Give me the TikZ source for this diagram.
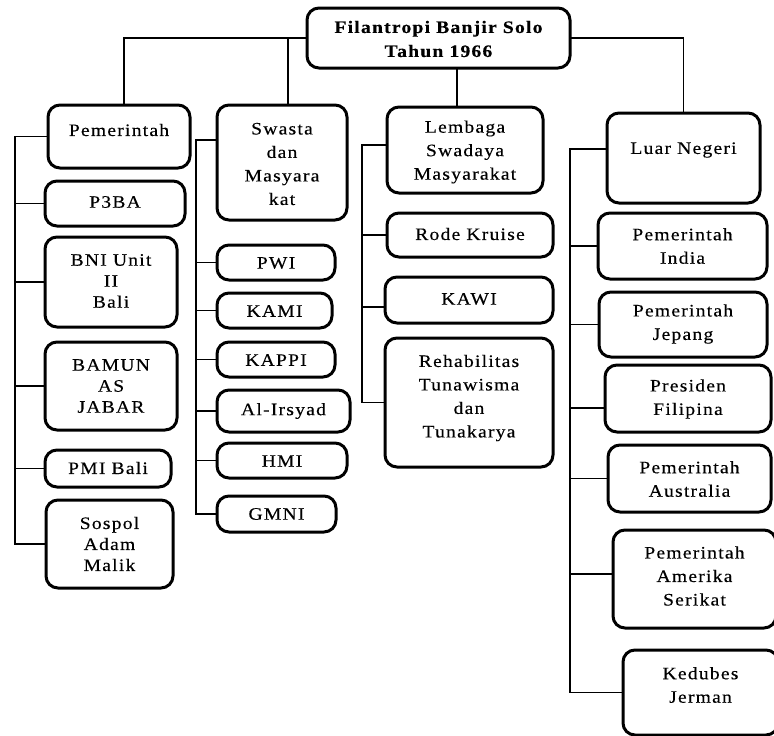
\documentclass[tikz,border=0pt]{standalone}
\usepackage{fontspec}
\setmainfont{Liberation Serif}[LetterSpace=7,FakeStretch=1.12,FakeBold=0.3]
\begin{document}
\begin{tikzpicture}[x=1pt,y=-1pt,
  bbox/.style={draw=black,line width=3pt,rounded corners=12pt,inner sep=0pt,outer sep=0pt,fill=white},
  lbl/.style={align=center,inner sep=0pt,font=\fontsize{17.5}{23.5}\selectfont},
  lblL/.style={lbl,font=\fontsize{17.5}{21}\selectfont},
  lblB/.style={lbl,font=\fontsize{17.5}{24}\selectfont\bfseries},
  conn/.style={draw=black,line width=1.5pt}]
\useasboundingbox (0,0) rectangle (774,736);
% boxes: [label style] name, x1, y1, x2, y2, text y, text
\newcommand\bxx[8][lbl]{%
  \path node[bbox,minimum width={#5-#3},minimum height={#6-#4}] (#2) at ({(#3+#5)/2},{(#4+#6)/2}) {};
  \path node[#1] (#2-t) at ({(#3+#5)/2},#7) {#8};}
% connector buses
\coordinate (b1) at (15,0);
\coordinate (b2) at (196,0);
\coordinate (b3) at (362,0);
\coordinate (b4) at (570,0);
\coordinate (sw1) at (196,140);
\coordinate (l1) at (362,145);
\coordinate (ln1) at (570,149);
\coordinate (filc) at (0,408);
\coordinate (kawic) at (0,307);
\coordinate (amec) at (0,574);

\bxx[lblB]{root}{307}{8}{570}{68}{39}{Filantropi Banjir Solo\\Tahun 1966}
\bxx{pem}{48}{105}{190}{168}{130}{Pemerintah}
\bxx{p3ba}{45}{181}{185}{226}{202}{P3BA}
\bxx[lblL]{bni}{45}{237}{177}{327}{281}{BNI Unit\\II\\Bali}
\bxx[lblL]{bamun}{45}{342}{177}{430}{386}{BAMUN\\AS\\JABAR}
\bxx{pmi}{45}{450}{171}{487}{468}{PMI Bali}
\bxx[lblL]{sospol}{46}{500}{173}{588}{544}{Sospol\\Adam\\Malik}
\bxx{sw}{217}{105}{347}{220}{164}{Swasta\\dan\\Masyara\\kat}
\bxx{pwi}{217}{245}{335}{280}{263}{PWI}
\bxx{kami}{217}{293}{332}{328}{311}{KAMI}
\bxx{kappi}{217}{342}{335}{377}{360}{KAPPI}
\bxx{irsyad}{217}{390}{350}{432}{411}{Al-Irsyad}
\bxx{hmi}{217}{443}{347}{478}{461}{HMI}
\bxx{gmni}{217}{496}{336}{532}{514}{GMNI}
\bxx{lsm}{387}{107}{543}{193}{152}{Lembaga\\Swadaya\\Masyarakat}
\bxx{rode}{387}{213}{553}{257}{234}{Rode Kruise}
\bxx{kawi}{385}{277}{553}{323}{299}{KAWI}
\bxx{rehab}{385}{338}{553}{467}{398}{Rehabilitas\\Tunawisma\\dan\\Tunakarya}
\bxx{ln}{607}{113}{760}{203}{150}{Luar Negeri}
\bxx{india}{598}{213}{767}{279}{246}{Pemerintah\\India}
\bxx{jepang}{599}{292}{767}{357}{324}{Pemerintah\\Jepang}
\bxx{fil}{605}{365}{771}{432}{399}{Presiden\\Filipina}
\bxx{aus}{608}{445}{771}{512}{479}{Pemerintah\\Australia}
\bxx{ame}{613}{530}{776}{628}{576}{Pemerintah\\Amerika\\Serikat}
\bxx{ked}{623}{650}{778}{735}{685}{Kedubes\\Jerman}

% top connectors
\draw[conn] (root.west) -| ([xshift=5pt]pem.north);
\draw[conn] ([xshift=6pt]sw.north) |- (root.west);
\draw[conn] ([xshift=-8pt]lsm.north) -- ([xshift=-8pt]lsm.north |- root.south);
\draw[conn] (root.east) -| (ln.north);

% column 1
\draw[conn] (pem.west) -- (pem.west -| b1) -- (sospol.west -| b1) -- (sospol.west);
\foreach \c in {p3ba,bni,bamun,pmi} \draw[conn] (\c.west) -- (\c.west -| b1);
% column 2
\draw[conn] (sw.west |- sw1) -- (sw1) -- (gmni.west -| b2) -- (gmni.west);
\foreach \c in {pwi,kami,kappi,irsyad,hmi} \draw[conn] (\c.west) -- (\c.west -| b2);
% column 3
\draw[conn] (lsm.west |- l1) -- (l1) -- (rehab.west -| l1) -- (rehab.west);
\draw[conn] (rode.west) -- (rode.west -| b3);
\draw[conn] (kawi.west |- kawic) -- (b3 |- kawic);
% column 4
\draw[conn] (ln.west |- ln1) -- (ln1) -- (ked.west -| b4) -- (ked.west);
\foreach \c in {india,jepang,aus} \draw[conn] (\c.west) -- (\c.west -| b4);
\draw[conn] (fil.west |- filc) -- (b4 |- filc);
\draw[conn] (ame.west |- amec) -- (b4 |- amec);
\end{tikzpicture}
\end{document}
